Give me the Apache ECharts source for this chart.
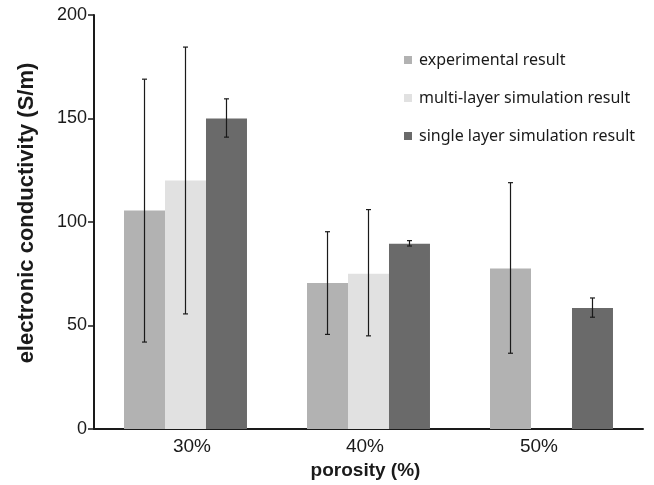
<!DOCTYPE html>
<html>
<head>
<meta charset="utf-8">
<script src="https://cdn.jsdelivr.net/npm/echarts@6/dist/echarts.min.js"></script>
<style>
  html, body { margin: 0; padding: 0; background: #fff; }
  #chart { width: 654px; height: 485px; }
</style>
</head>
<body>
<div id="chart"></div>
<script>
// Porosity groups on the x axis
const categories = ['30%', '40%', '50%'];

// Mean conductivity (S/m) per porosity, with error-bar bounds
const experimental = [105.5, 70.5, 77.5];
const experimentalLow = [42, 45.7, 36.6];
const experimentalHigh = [169, 95.3, 119];

const multiLayer = [120, 75, null];
const multiLayerLow = [55.6, 45, null];
const multiLayerHigh = [184.5, 106, null];

const singleLayer = [150, 89.5, 58.5];
const singleLayerLow = [141, 88.4, 54];
const singleLayerHigh = [159.5, 91, 63.3];

const yTicks = { min: 0, max: 200, interval: 50 };

const BAR_RATIO = 0.224; // bar width as share of a category band
const colors = ['#b2b2b2', '#e1e1e1', '#6a6a6a'];
const names = ['experimental result', 'multi-layer simulation result', 'single layer simulation result'];

// Error bar drawn over the bar in slot `slot` (-1, 0, +1) of each group
function errorSeries(low, high, slot) {
  const data = [];
  low.forEach(function (v, i) {
    if (v != null && high[i] != null) data.push([i, v, high[i]]);
  });
  return {
    type: 'custom',
    silent: true,
    z: 5,
    data: data,
    encode: { x: 0, y: [1, 2] },
    renderItem: function (params, api) {
      const i = api.value(0);
      const lo = api.coord([i, api.value(1)]);
      const hi = api.coord([i, api.value(2)]);
      const band = api.size([1, 0])[0];
      const x = lo[0] + slot * band * BAR_RATIO;
      const cap = 2.5;
      const style = { stroke: '#1a1a1a', lineWidth: 1.2 };
      return {
        type: 'group',
        children: [
          { type: 'line', shape: { x1: x, y1: hi[1], x2: x, y2: lo[1] }, style: style },
          { type: 'line', shape: { x1: x - cap, y1: hi[1], x2: x + cap, y2: hi[1] }, style: style },
          { type: 'line', shape: { x1: x - cap, y1: lo[1], x2: x + cap, y2: lo[1] }, style: style }
        ]
      };
    }
  };
}

const labelFont = { fontFamily: 'Liberation Sans', fontSize: 19, color: '#1a1a1a' };

const chart = echarts.init(document.getElementById('chart'), null, { renderer: 'canvas' });

chart.setOption({
  animation: false,
  backgroundColor: '#ffffff',
  grid: { left: 94, right: 11, top: 15, bottom: 56, containLabel: false, outerBoundsMode: 'none' },
  legend: {
    orient: 'vertical',
    left: 399,
    top: 47,
    itemWidth: 8,
    itemHeight: 8,
    itemGap: 22,
    icon: 'rect',
    textStyle: { fontFamily: 'Noto Sans', fontSize: 16, color: '#1a1a1a', padding: [0, 0, 0, 2] },
    data: names
  },
  xAxis: {
    type: 'category',
    data: categories,
    boundaryGap: true,
    name: 'porosity (%)',
    nameLocation: 'middle',
    nameGap: 32,
    nameTextStyle: { fontFamily: 'Liberation Sans', fontWeight: 'bold', fontSize: 19, color: '#1a1a1a', padding: [0, 6, 0, 0] },
    axisLine: { lineStyle: { color: '#1a1a1a', width: 2 } },
    axisTick: { inside: true, length: 5, lineStyle: { color: '#1a1a1a', width: 1.5 } },
    axisLabel: {
      margin: 8,
      formatter: function (value, index) {
        return '{c' + index + '|' + value + '}';
      },
      rich: {
        c0: Object.assign({ padding: [0, 0, 0, 13] }, labelFont),
        c1: Object.assign({ padding: [0, 7, 0, 0] }, labelFont),
        c2: Object.assign({ padding: [0, 25, 0, 0] }, labelFont)
      }
    },
    splitLine: { show: false }
  },
  yAxis: {
    type: 'value',
    min: yTicks.min,
    max: yTicks.max,
    interval: yTicks.interval,
    name: 'electronic conductivity (S/m)',
    nameLocation: 'middle',
    nameGap: 56,
    nameTextStyle: { fontFamily: 'Liberation Sans', fontWeight: 'bold', fontSize: 22, color: '#1a1a1a', padding: [0, 0, 0, 18] },
    axisLine: { show: true, lineStyle: { color: '#1a1a1a', width: 2 } },
    axisTick: { show: true, length: 6, lineStyle: { color: '#1a1a1a', width: 1.5 } },
    axisLabel: { fontFamily: 'Liberation Sans', fontSize: 18, color: '#1a1a1a', margin: 7 },
    splitLine: { show: false }
  },
  series: [
    { name: names[0], type: 'bar', data: experimental, barWidth: (BAR_RATIO * 100) + '%', barGap: '0%', itemStyle: { color: colors[0] } },
    { name: names[1], type: 'bar', data: multiLayer, barWidth: (BAR_RATIO * 100) + '%', barGap: '0%', itemStyle: { color: colors[1] } },
    { name: names[2], type: 'bar', data: singleLayer, barWidth: (BAR_RATIO * 100) + '%', barGap: '0%', itemStyle: { color: colors[2] } },
    errorSeries(experimentalLow, experimentalHigh, -1),
    errorSeries(multiLayerLow, multiLayerHigh, 0),
    errorSeries(singleLayerLow, singleLayerHigh, 1)
  ]
});
</script>
</body>
</html>
